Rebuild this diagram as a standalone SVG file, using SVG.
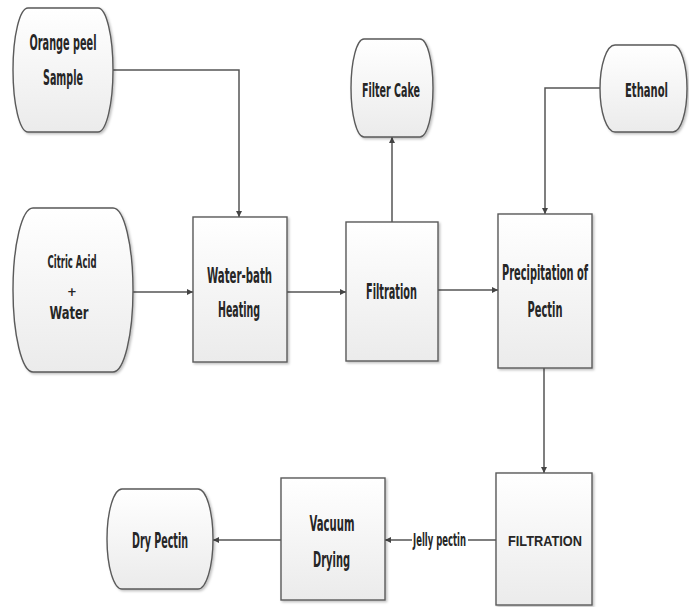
<svg xmlns="http://www.w3.org/2000/svg" width="689" height="607" viewBox="0 0 689 607">
<style>
.shape{fill:url(#g);stroke:#5a5a5a;stroke-width:1.4;filter:url(#sh)}
.t{font-family:"Liberation Sans Narrow","DejaVu Sans Condensed","Liberation Sans",sans-serif;font-weight:bold;fill:#262626;text-anchor:middle}
.big{font-size:21px}
.mid{font-size:19px}
.sm{font-size:17px}
.plus{font-family:"DejaVu Sans Condensed","Liberation Sans",sans-serif;font-size:13px;font-weight:bold;fill:#262626;text-anchor:middle}
.caps{font-family:"Liberation Sans",Arial,sans-serif;font-weight:bold;font-size:14px;fill:#262626;text-anchor:middle}
.c{fill:none;stroke:#555;stroke-width:1.5;marker-end:url(#a)}
</style>
<defs>
<linearGradient id="g" x1="0" y1="0" x2="0" y2="1">
<stop offset="0" stop-color="#ffffff"/>
<stop offset="1" stop-color="#ebebeb"/>
</linearGradient>
<filter id="sh" x="-10%" y="-10%" width="130%" height="130%">
<feDropShadow dx="1.5" dy="1.5" stdDeviation="1.2" flood-color="#000" flood-opacity="0.25"/>
</filter>
<marker id="a" viewBox="0 0 10 10" refX="10" refY="5" markerWidth="6" markerHeight="6" markerUnits="userSpaceOnUse" orient="auto">
<path d="M0,0 L10,5 L0,10 Z" fill="#444"/>
</marker>
</defs>

<g id="connectors">
<path class="c" d="M113,70 H239 V217"/>
<path class="c" d="M133,292 H193"/>
<path class="c" d="M287,292 H346"/>
<path class="c" d="M392,222 V137"/>
<path class="c" d="M438,290 H498"/>
<path class="c" d="M600,88 H545 V214"/>
<path class="c" d="M544,368 V473"/>
<path class="c" d="M496,540 H385"/>
<path class="c" d="M281,540 H213"/>
<rect x="412" y="530" width="56" height="20" fill="#fff"/>
<text class="t sm" x="439.5" y="546" textLength="53" lengthAdjust="spacingAndGlyphs">Jelly pectin</text>
</g>

<g id="orange-peel">
<path class="shape" d="M28,8 H98 A15,62 0 0 1 98,132 H28 A15,62 0 0 1 28,8 Z"/>
<text class="t big" x="63" y="50" textLength="67" lengthAdjust="spacingAndGlyphs">Orange peel</text>
<text class="t big" x="63" y="85" textLength="40" lengthAdjust="spacingAndGlyphs">Sample</text>
</g>

<g id="filter-cake">
<path class="shape" d="M364,39 H420 A13,49 0 0 1 420,137 H364 A13,49 0 0 1 364,39 Z"/>
<text class="t mid" x="391" y="97" textLength="58" lengthAdjust="spacingAndGlyphs">Filter Cake</text>
</g>

<g id="ethanol">
<path class="shape" d="M615,45 H673 A14,43.5 0 0 1 673,132 H615 A15,43.5 0 0 1 615,45 Z"/>
<text class="t mid" transform="translate(646.5 97) scale(0.7 1)" x="0" y="0" textLength="61.4" lengthAdjust="spacingAndGlyphs">Ethanol</text>
</g>

<g id="citric-acid-water">
<path class="shape" d="M33,208 H113 A20,82 0 0 1 113,372 H33 A20,82 0 0 1 33,208 Z"/>
<text class="t sm" x="72" y="268" textLength="49" lengthAdjust="spacingAndGlyphs">Citric Acid</text>
<text class="plus" x="72" y="296">+</text>
<text class="t sm" x="69" y="319" textLength="39" lengthAdjust="spacingAndGlyphs">Water</text>
</g>

<g id="water-bath-heating">
<rect class="shape" x="193" y="217" width="94" height="145"/>
<text class="t big" x="239.5" y="283" textLength="65" lengthAdjust="spacingAndGlyphs">Water-bath</text>
<text class="t big" x="239" y="317" textLength="42" lengthAdjust="spacingAndGlyphs">Heating</text>
</g>

<g id="filtration">
<rect class="shape" x="346" y="222" width="92" height="139"/>
<text class="t big" x="391.5" y="299" textLength="51" lengthAdjust="spacingAndGlyphs">Filtration</text>
</g>

<g id="precipitation">
<rect class="shape" x="498" y="214" width="94" height="154"/>
<text class="t big" x="545" y="280" textLength="86" lengthAdjust="spacingAndGlyphs">Precipitation of</text>
<text class="t big" x="545" y="317" textLength="35" lengthAdjust="spacingAndGlyphs">Pectin</text>
</g>

<g id="filtration-2">
<rect class="shape" x="496" y="473" width="96" height="132"/>
<text class="caps" x="545" y="546" textLength="74" lengthAdjust="spacingAndGlyphs">FILTRATION</text>
</g>

<g id="vacuum-drying">
<rect class="shape" x="281" y="478" width="104" height="122"/>
<text class="t big" x="332" y="531" textLength="45" lengthAdjust="spacingAndGlyphs">Vacuum</text>
<text class="t big" x="331.5" y="567" textLength="37" lengthAdjust="spacingAndGlyphs">Drying</text>
</g>

<g id="dry-pectin">
<path class="shape" d="M122,489 H198 A15,50 0 0 1 198,589 H122 A15,50 0 0 1 122,489 Z"/>
<text class="t big" x="160" y="548" textLength="56" lengthAdjust="spacingAndGlyphs">Dry Pectin</text>
</g>
</svg>
